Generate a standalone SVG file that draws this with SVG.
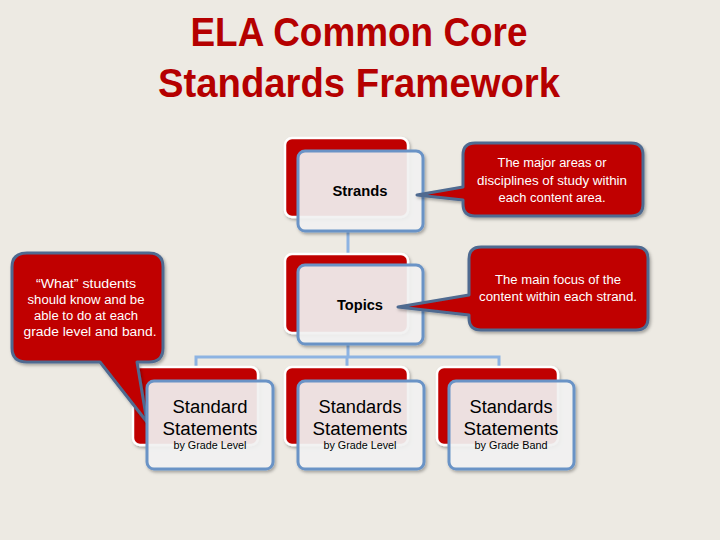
<svg xmlns="http://www.w3.org/2000/svg" width="720" height="540" viewBox="0 0 720 540">
<defs>
<style>
.title{font-family:"Liberation Sans",Arial,sans-serif;font-weight:bold;font-size:40px;fill:#B50000;text-anchor:middle}
.back{fill:#C00000;stroke:#FFFFFF;stroke-width:2.5}
.front{fill:#F4F4F4;fill-opacity:0.9;stroke:#6A93C6;stroke-width:3}
.lbl{font-family:"Liberation Sans",Arial,sans-serif;font-size:14px;font-weight:bold;fill:#000;text-anchor:middle}
.big{font-family:"Liberation Sans",Arial,sans-serif;font-size:18px;fill:#000;text-anchor:middle}
.small{font-family:"Liberation Sans",Arial,sans-serif;font-size:10.5px;fill:#000;text-anchor:middle}
.callout{fill:#C00000;stroke:#4F6A90;stroke-width:3;stroke-linejoin:round}
.ct{font-family:"Liberation Sans",Arial,sans-serif;font-size:12.5px;fill:#FFFFFF;text-anchor:middle}
.conn{stroke:#8DB3E2;stroke-width:3;fill:none}
</style>
<filter id="sh" x="-10%" y="-10%" width="130%" height="130%">
<feDropShadow dx="1.5" dy="2" stdDeviation="1.5" flood-color="#000" flood-opacity="0.3"/>
</filter>
</defs>
<rect width="720" height="540" fill="#EDEAE3"/>
<text class="title" x="359" y="46" textLength="337" lengthAdjust="spacingAndGlyphs">ELA Common Core</text>
<text class="title" x="359" y="97" textLength="402" lengthAdjust="spacingAndGlyphs">Standards Framework</text>

<g id="connectors">
<line class="conn" x1="348" y1="231" x2="348" y2="265"/>
<line class="conn" x1="348" y1="344" x2="348" y2="357"/>
<polyline class="conn" points="196,370 196,357 499,357 499,370"/>
<line class="conn" x1="347" y1="357" x2="347" y2="370"/>
</g>

<g id="strands">
<rect class="back" x="285" y="138" width="123" height="79" rx="7" filter="url(#sh)"/>
<rect class="front" x="298" y="151" width="125" height="80" rx="7" filter="url(#sh)"/>
<text class="lbl" x="360" y="196" textLength="55" lengthAdjust="spacingAndGlyphs">Strands</text>
</g>

<g id="topics">
<rect class="back" x="285" y="254" width="123" height="79" rx="7" filter="url(#sh)"/>
<rect class="front" x="298" y="265" width="125" height="79" rx="7" filter="url(#sh)"/>
<text class="lbl" x="360" y="310" textLength="46" lengthAdjust="spacingAndGlyphs">Topics</text>
</g>

<g id="box1">
<rect class="back" x="133" y="367" width="125" height="78" rx="7" filter="url(#sh)"/>
</g>

<g id="callout-what">
<path class="callout" d="M27,253 H149 Q163,253 163,267 V348 Q163,362 149,362 H137 L147,422 L100,362 H27 Q12,362 12,348 V267 Q12,253 27,253 Z" filter="url(#sh)"/>
<text class="ct" x="86" y="288" textLength="100" lengthAdjust="spacingAndGlyphs">“What” students</text>
<text class="ct" x="86" y="304" textLength="117" lengthAdjust="spacingAndGlyphs">should know and be</text>
<text class="ct" x="86" y="320" textLength="104" lengthAdjust="spacingAndGlyphs">able to do at each</text>
<text class="ct" x="90" y="336" textLength="133" lengthAdjust="spacingAndGlyphs">grade level and band.</text>
</g>

<g id="box1-front">
<rect class="front" x="147" y="381" width="126" height="88" rx="7" filter="url(#sh)"/>
<text class="big" x="210" y="413" textLength="75" lengthAdjust="spacingAndGlyphs">Standard</text>
<text class="big" x="210" y="435" textLength="95" lengthAdjust="spacingAndGlyphs">Statements</text>
<text class="small" x="210" y="449" textLength="73" lengthAdjust="spacingAndGlyphs">by Grade Level</text>
</g>

<g id="box2">
<rect class="back" x="285" y="367" width="123" height="78" rx="7" filter="url(#sh)"/>
<rect class="front" x="298" y="381" width="126" height="88" rx="7" filter="url(#sh)"/>
<text class="big" x="360" y="413" textLength="83" lengthAdjust="spacingAndGlyphs">Standards</text>
<text class="big" x="360" y="435" textLength="95" lengthAdjust="spacingAndGlyphs">Statements</text>
<text class="small" x="360" y="449" textLength="73" lengthAdjust="spacingAndGlyphs">by Grade Level</text>
</g>

<g id="box3">
<rect class="back" x="437" y="367" width="121" height="78" rx="7" filter="url(#sh)"/>
<rect class="front" x="449" y="381" width="125" height="88" rx="7" filter="url(#sh)"/>
<text class="big" x="511" y="413" textLength="83" lengthAdjust="spacingAndGlyphs">Standards</text>
<text class="big" x="511" y="435" textLength="95" lengthAdjust="spacingAndGlyphs">Statements</text>
<text class="small" x="511" y="449" textLength="73" lengthAdjust="spacingAndGlyphs">by Grade Band</text>
</g>

<g id="callout-strands">
<path class="callout" d="M475,143 H631 Q643,143 643,155 V204 Q643,216 631,216 H475 Q463,216 463,204 V200 L417,195 L463,187 V155 Q463,143 475,143 Z" filter="url(#sh)"/>
<text class="ct" x="552" y="167" textLength="109" lengthAdjust="spacingAndGlyphs">The major areas or</text>
<text class="ct" x="552" y="185" textLength="150" lengthAdjust="spacingAndGlyphs">disciplines of study within</text>
<text class="ct" x="552" y="202" textLength="107" lengthAdjust="spacingAndGlyphs">each content area.</text>
</g>

<g id="callout-topics">
<path class="callout" d="M481,247 H636 Q648,247 648,259 V318 Q648,330 636,330 H481 Q469,330 469,318 V315 L398,307 L469,295 V259 Q469,247 481,247 Z" filter="url(#sh)"/>
<text class="ct" x="558" y="284" textLength="126" lengthAdjust="spacingAndGlyphs">The main focus of the</text>
<text class="ct" x="558" y="301" textLength="158" lengthAdjust="spacingAndGlyphs">content within each strand.</text>
</g>
</svg>
